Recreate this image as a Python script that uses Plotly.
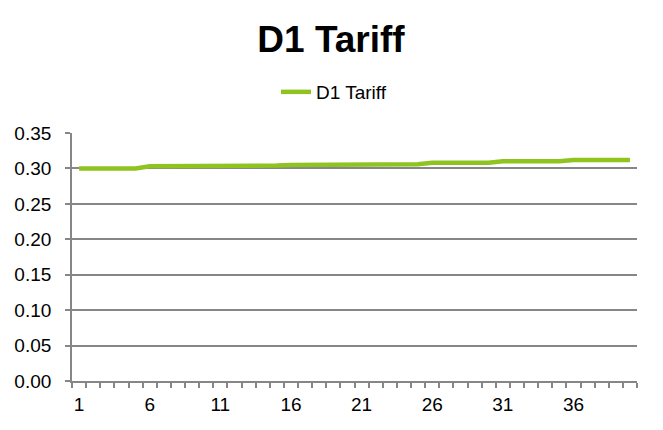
import plotly.graph_objects as go

# D1 tariff by year (steps every 5 years)
years = list(range(1, 41))
step_values = [0.300, 0.303, 0.304, 0.305, 0.306, 0.308, 0.310, 0.312]
tariff = [v for v in step_values for _ in range(5)]

x_labels = [1, 6, 11, 16, 21, 26, 31, 36]
y_ticks = [0.00, 0.05, 0.10, 0.15, 0.20, 0.25, 0.30, 0.35]

font = "Arial, Liberation Sans, sans-serif"
grey = "#868686"
green = "#8FC31F"

# page body adds 8px offset, so the figure is a bit smaller
W, H = 655, 422

fig = go.Figure()
fig.add_trace(go.Scatter(
    x=years, y=tariff,
    mode="lines",
    name="D1 Tariff",
    line=dict(color=green, width=4.5),
))

fig.update_layout(
    width=W, height=H,
    paper_bgcolor="white", plot_bgcolor="white",
    margin=dict(l=64, r=26, t=125, b=49, autoexpand=False),
    font=dict(family=font, size=19, color="black"),
    title=dict(text="<b>D1 Tariff</b>", x=323 / W, xref="container", xanchor="center",
               y=1 - 31 / H, yref="container", yanchor="middle",
               font=dict(size=37, family=font, color="black")),
    showlegend=True,
    legend=dict(orientation="h", x=326 / W, xref="container", xanchor="center",
                y=1 - 84 / H, yref="container", yanchor="middle",
                font=dict(size=19, family=font)),
)

fig.update_xaxes(
    range=[0.5, 40.5],
    tickmode="array", tickvals=x_labels, ticktext=[str(v) for v in x_labels],
    ticks="", showgrid=False, zeroline=False, automargin=False,
    showline=True, linecolor=grey, linewidth=1.7,
    minor=dict(tickmode="linear", tick0=0.5, dtick=1, ticks="outside",
               ticklen=5, tickwidth=1.7, tickcolor=grey, showgrid=False),
    ticklabelstandoff=5,
    tickfont=dict(size=19),
)
fig.update_yaxes(
    range=[0, 0.35],
    tickmode="array", tickvals=y_ticks, ticktext=[f"{v:.2f}" for v in y_ticks],
    ticks="outside", ticklen=5, tickwidth=1.7, tickcolor=grey,
    showgrid=True, gridcolor=grey, gridwidth=1.7, zeroline=False, automargin=False,
    showline=True, linecolor=grey, linewidth=1.7,
    ticklabelstandoff=10,
    tickfont=dict(size=19),
)

fig.write_html("out.html")
